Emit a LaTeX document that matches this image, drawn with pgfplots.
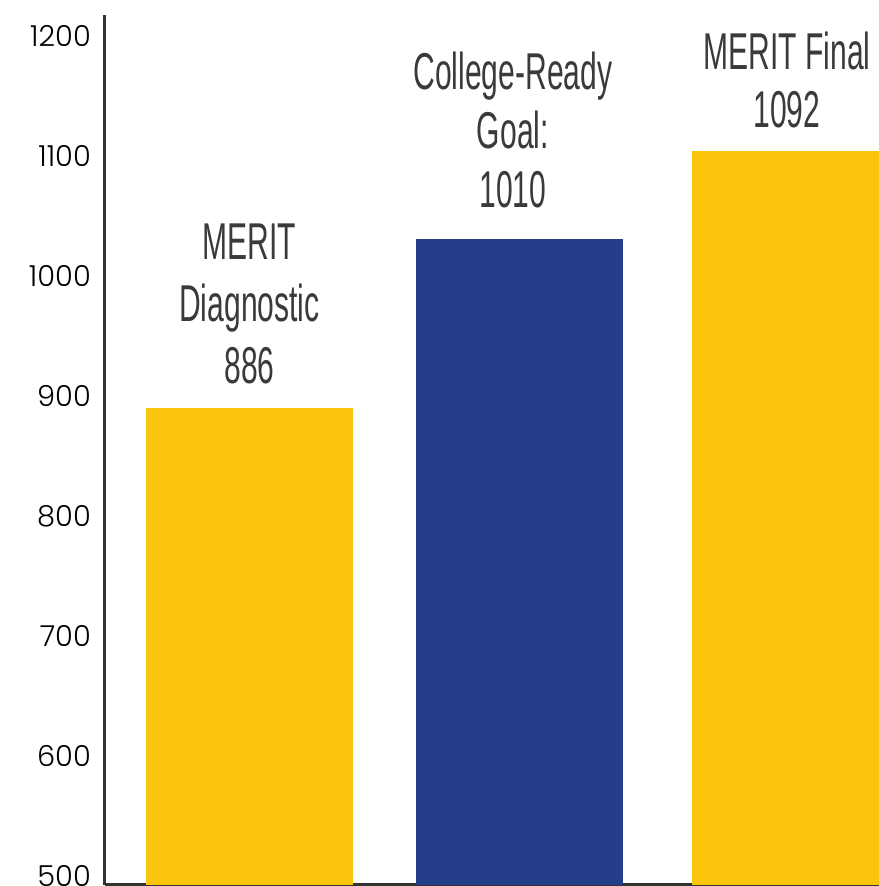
\documentclass[border=0pt]{standalone}
\usepackage{fontspec}
\usepackage{pgfplots}
\pgfplotsset{compat=1.18}
\IfFontExistsTF{Poppins Light}{\newfontfamily\tickfont{Poppins Light}}{\newfontfamily\tickfont{Poppins}}
\newfontfamily\condfont[FakeStretch=0.58]{Liberation Sans}
\definecolor{myyellow}{RGB}{252,197,13}
\definecolor{myblue}{RGB}{36,62,140}
\definecolor{txtgray}{RGB}{58,58,58}
\definecolor{axgray}{RGB}{51,51,51}
\begin{document}
\begin{tikzpicture}
\path[use as bounding box] (-105bp,-1bp) rectangle (774bp,885bp);
\begin{axis}[
  at={(0,0)}, anchor=south west,
  scale only axis, width=774bp, height=870bp,
  xmin=-0.529, xmax=2.306,
  ymin=492.5, ymax=1217.5,
  axis x line=bottom, axis y line=left,
  axis line style={-, line width=3bp, color=axgray},
  xtick=\empty,
  ytick={500,600,...,1200},
  major tick length=0pt,
  /pgf/number format/assume math mode=true,
  /pgf/number format/1000 sep={},
  yticklabel style={font=\tickfont\fontsize{29}{32}\selectfont, color=black, inner sep=0pt, xshift=-14bp},
  ybar, bar width=207bp, bar shift=0pt,
]
\addplot[fill=myyellow, draw=none] coordinates {(0,890)};
\addplot[fill=myblue, draw=none] coordinates {(0.989,1031)};
\addplot[fill=myyellow, draw=none] coordinates {(2,1104)};
\node[align=center, text=txtgray, font=\condfont\fontsize{52}{62}\selectfont, inner sep=0pt] at (axis cs:0,976.7) {MERIT\\Diagnostic\\886};
\node[align=center, text=txtgray, font=\condfont\fontsize{52}{59}\selectfont, inner sep=0pt] at (axis cs:0.965,1121.7) {College-Ready\\Goal:\\1010};
\node[align=center, text=txtgray, font=\condfont\fontsize{52}{58}\selectfont, inner sep=0pt] at (axis cs:1.969,1163.3) {MERIT Final\\1092};
\end{axis}
\end{tikzpicture}
\end{document}
